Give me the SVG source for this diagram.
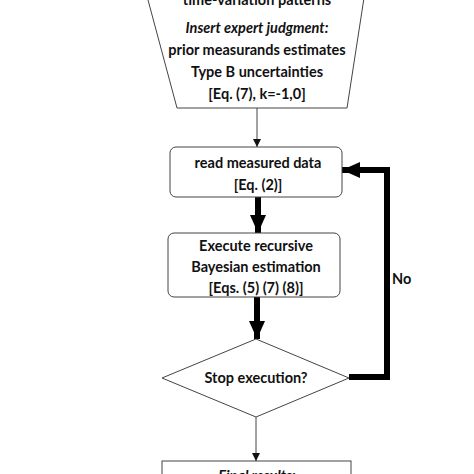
<svg xmlns="http://www.w3.org/2000/svg" width="474" height="474" viewBox="0 0 474 474">
<defs>
<style>
.t{font-family:Lato,"Liberation Sans",sans-serif;font-weight:bold;font-size:14.5px;fill:#111;text-anchor:middle}
.i{font-style:italic}
.s{fill:#fff;stroke:#444;stroke-width:1}
.thin{stroke:#444;stroke-width:1;fill:none}
.thick{stroke:#000;stroke-width:6;fill:none}
</style>
<marker id="ah" viewBox="0 0 10 10" refX="10" refY="5" markerWidth="8" markerHeight="8" markerUnits="userSpaceOnUse" orient="auto"><path d="M0,0L10,5L0,10z" fill="#111"/></marker>
<marker id="ahb" viewBox="0 0 10 10" refX="10" refY="5" markerWidth="18" markerHeight="16" markerUnits="userSpaceOnUse" orient="auto" preserveAspectRatio="none"><path d="M0,0L10,5L0,10z" fill="#000"/></marker>
</defs>
<rect width="474" height="474" fill="#fff"/>
<g id="connectors">
<line class="thin" x1="257" y1="108" x2="257" y2="147" marker-end="url(#ah)"/>
<line class="thick" x1="258" y1="197" x2="258" y2="233" marker-end="url(#ahb)"/>
<line class="thick" x1="257" y1="297" x2="257" y2="339" marker-end="url(#ahb)"/>
<polyline class="thick" points="349,377 387,377 387,170 342,170" marker-end="url(#ahb)"/>
<line class="thin" x1="256" y1="417" x2="256" y2="461" marker-end="url(#ah)"/>
<text class="t" x="392" y="284" style="text-anchor:start">No</text>
</g>
<g id="input">
<polygon class="s" points="144,-15 366,-15 347,108 177,108"/>
<text class="t" x="257" y="5">time-variation patterns</text>
<text class="t i" x="257" y="33">Insert expert judgment:</text>
<text class="t" x="257" y="55">prior measurands estimates</text>
<text class="t" x="257" y="77">Type B uncertainties</text>
<text class="t" x="257" y="99">[Eq. (7), k=-1,0]</text>
</g>
<g id="read">
<rect class="s" x="170" y="147" width="172" height="50" rx="6"/>
<text class="t" x="258" y="168">read measured data</text>
<text class="t" x="258" y="190">[Eq. (2)]</text>
</g>
<g id="execute">
<rect class="s" x="168" y="233" width="172" height="64" rx="6"/>
<text class="t" x="256" y="251">Execute recursive</text>
<text class="t" x="256" y="272">Bayesian estimation</text>
<text class="t" x="256" y="293">[Eqs. (5) (7) (8)]</text>
</g>
<g id="stop">
<polygon class="s" points="256,339 349,378 256,417 162,378"/>
<text class="t" x="256" y="383">Stop execution?</text>
</g>
<g id="final">
<rect class="s" x="162" y="461" width="189" height="40"/>
<text class="t i" x="257" y="481">Final results:</text>
</g>
</svg>
